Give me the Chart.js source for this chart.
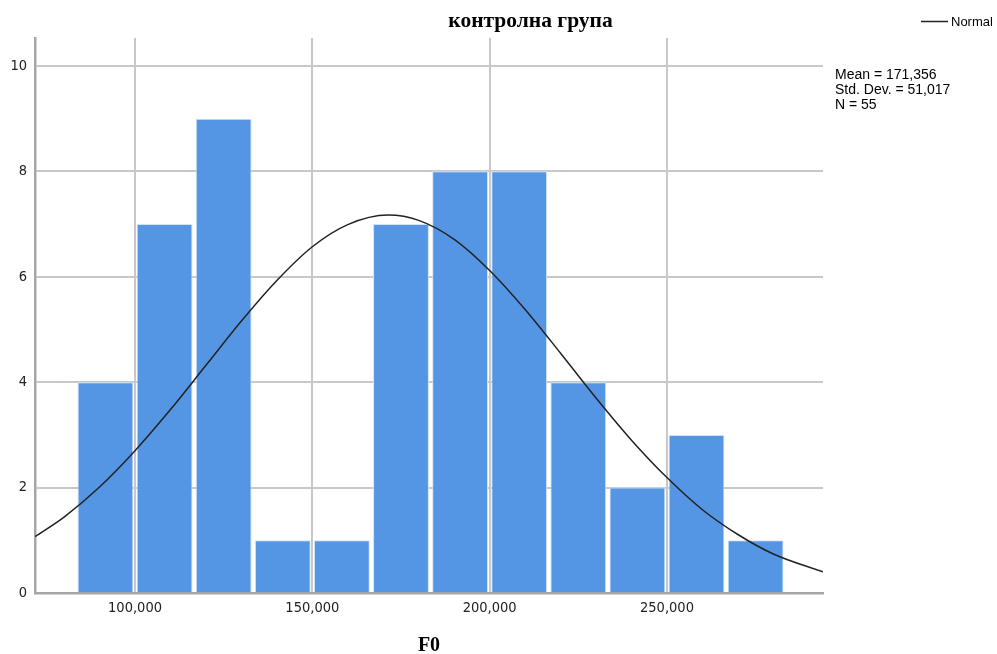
<!DOCTYPE html>
<html><head><meta charset="utf-8">
<script src="https://cdn.jsdelivr.net/npm/chart.js@4.4.0/dist/chart.umd.min.js"></script>
<style>html,body{margin:0;background:#fff}#wrap{width:997px;height:654px}</style>
</head><body>
<div id="wrap"><canvas id="c" width="997" height="654"></canvas></div>
<script>
// Histogram of F0 (Hz) for the control group, 12 bins of width 16,667
const binCenters = [91.667, 108.333, 125.0, 141.667, 158.333, 175.0, 191.667, 208.333, 225.0, 241.667, 258.333, 275.0];
const binCounts  = [4, 7, 9, 1, 1, 7, 8, 8, 4, 2, 3, 1];

// Fitted normal curve, sampled along the x range
const curveX = [71.8, 80, 90, 100, 110, 120, 130, 140, 150, 160, 171.4, 180, 190, 200, 210, 220, 230, 240, 250, 260, 270, 280, 294];
const curveY = [1.07, 1.44, 2.01, 2.70, 3.48, 4.32, 5.16, 5.93, 6.57, 6.99, 7.17, 7.07, 6.71, 6.12, 5.38, 4.55, 3.70, 2.90, 2.19, 1.58, 1.11, 0.74, 0.40];

const xTicks = [100, 150, 200, 250];
const yTicks = [0, 2, 4, 6, 8, 10];

const chartTitle = 'контролна група';
const xTitle = 'F0';
const legendLabel = 'Normal';
const statsLines = ['Mean = 171,356', 'Std. Dev. = 51,017', 'N = 55'];

const fmtComma = v => v.toFixed(3).replace('.', ',');
const tickFont = { family: '"DejaVu Sans Condensed", "DejaVu Sans"', size: 14.5 };

const decorations = {
  id: 'decorations',
  afterDraw(chart) {
    const ctx = chart.ctx;
    const area = chart.chartArea;
    ctx.save();
    ctx.fillStyle = '#000';
    ctx.textBaseline = 'alphabetic';

    ctx.font = 'bold 21.5px "Liberation Serif"';
    ctx.textAlign = 'center';
    ctx.fillText(chartTitle, 530.5, 27);

    ctx.font = 'bold 20px "Liberation Serif"';
    ctx.fillText(xTitle, (area.left + area.right) / 2, 651);

    // legend entry
    ctx.strokeStyle = '#222';
    ctx.lineWidth = 1.5;
    ctx.beginPath();
    ctx.moveTo(921, 21.5);
    ctx.lineTo(948, 21.5);
    ctx.stroke();
    ctx.font = '13px "Liberation Sans"';
    ctx.textAlign = 'left';
    ctx.textBaseline = 'middle';
    ctx.fillText(legendLabel, 951, 22);

    // summary statistics
    ctx.textBaseline = 'alphabetic';
    ctx.font = '14px "Liberation Sans"';
    statsLines.forEach((s, i) => ctx.fillText(s, 835, 78.5 + i * 15.3));
    ctx.restore();
  }
};

new Chart(document.getElementById('c'), {
  type: 'bar',
  data: {
    datasets: [
      {
        type: 'line',
        data: curveX.map((x, i) => ({ x, y: curveY[i] })),
        borderColor: '#222',
        borderWidth: 1.5,
        pointRadius: 0,
        fill: false,
        cubicInterpolationMode: 'monotone',
        order: 1
      },
      {
        type: 'bar',
        data: binCenters.map((x, i) => ({ x, y: binCounts[i] })),
        backgroundColor: '#5596e4',
        borderColor: '#d2e3f7',
        borderWidth: 1,
        barPercentage: 0.945,
        categoryPercentage: 1,
        order: 2
      }
    ]
  },
  options: {
    responsive: false,
    animation: false,
    layout: { padding: { left: 0, top: 38, right: 174, bottom: 0 } },
    plugins: { legend: { display: false }, tooltip: { enabled: false }, title: { display: false } },
    scales: {
      x: {
        type: 'linear',
        min: 71.8,
        max: 294.0,
        offset: false,
        afterFit: s => { s.height = 61; },
        afterBuildTicks: s => { s.ticks = xTicks.map(v => ({ value: v })); },
        grid: { color: '#c8c8c8', lineWidth: 2, drawTicks: false, offset: false },
        border: { color: '#a6a6a6', width: 2.5 },
        ticks: {
          autoSkip: false, maxRotation: 0, padding: 7, color: '#222',
          font: tickFont,
          callback: v => fmtComma(v)
        }
      },
      y: {
        min: 0,
        max: 10.53,
        afterFit: s => { s.width = 35; },
        afterBuildTicks: s => { s.ticks = yTicks.map(v => ({ value: v })); },
        grid: { color: '#c8c8c8', lineWidth: 2, drawTicks: false },
        border: { color: '#a6a6a6', width: 2.5 },
        ticks: {
          padding: 8, color: '#222',
          font: tickFont,
          callback: v => String(v)
        }
      }
    }
  },
  plugins: [decorations]
});
</script>
</body></html>
